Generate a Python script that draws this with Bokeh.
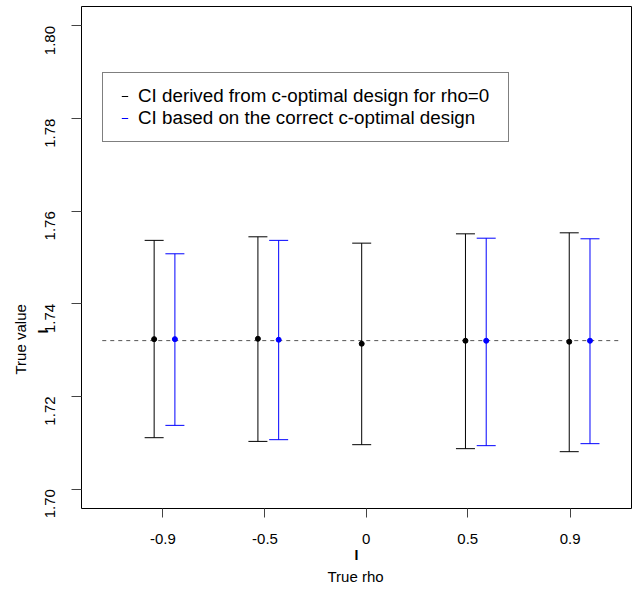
import math
from bokeh.plotting import figure
from bokeh.models import (Range1d, FixedTicker, NumeralTickFormatter, Title,
                          Legend, LegendItem, ColumnDataSource)
from bokeh.embed import file_html
from bokeh.resources import INLINE

# ---------------- data ----------------
rho_labels = ["-0.9", "-0.5", "0", "0.5", "0.9"]
tick_at = [0.984, 1.968, 2.944, 3.922, 4.908]
true_value = 1.7320508

black_x = [0.9, 1.9, 2.9, 3.9, 4.9]
black_est = [1.73237, 1.73245, 1.73138, 1.73202, 1.73181]
black_lower = [1.71109, 1.71029, 1.70958, 1.70872, 1.70807]
black_upper = [1.75370, 1.75447, 1.75310, 1.75511, 1.75533]

blue_x = [1.1, 2.1, 4.1, 5.1]
blue_est = [1.73237, 1.73224, 1.73202, 1.73202]
blue_lower = [1.71375, 1.71066, 1.70937, 1.70980]
blue_upper = [1.75080, 1.75370, 1.75417, 1.75404]

y_ticks = [1.70, 1.72, 1.74, 1.76, 1.78, 1.80]

legend_labels = ["CI derived from c-optimal design for rho=0",
                 "CI based on the correct c-optimal design"]

FONT = "Liberation Sans"

p = figure(output_backend="svg", toolbar_location=None,
           frame_width=550, frame_height=502,
           min_border_left=81, min_border_right=2,
           min_border_top=6, min_border_bottom=79,
           x_range=Range1d(0.2, 5.5), y_range=Range1d(1.6958, 1.8042))

p.background_fill_color = "white"
p.border_fill_color = "white"
p.outline_line_color = "black"
p.outline_line_width = 1
p.xgrid.visible = False
p.ygrid.visible = False

# axes
p.xaxis.ticker = FixedTicker(ticks=tick_at)
p.xaxis.major_label_overrides = {t: l for t, l in zip(tick_at, rho_labels)}
p.yaxis.ticker = FixedTicker(ticks=y_ticks)
p.yaxis.formatter = NumeralTickFormatter(format="0.00")
for ax in (p.xaxis[0], p.yaxis[0]):
    ax.axis_line_color = None
    ax.major_tick_in = 0
    ax.minor_tick_line_color = None
    ax.major_tick_line_color = "#444444"
    ax.major_label_text_font = FONT
    ax.major_label_text_font_size = "15px"
    ax.major_label_text_color = "black"
p.xaxis.major_tick_out = 9
p.xaxis.major_label_standoff = 16
p.yaxis.major_tick_out = 10
p.yaxis.major_label_standoff = 21
p.yaxis.major_label_orientation = math.pi / 2

p.xaxis.axis_label = "I"
p.xaxis.axis_label_standoff = 0
p.xaxis.axis_label_text_font = FONT
p.xaxis.axis_label_text_font_size = "14px"
p.xaxis.axis_label_text_font_style = "bold"
p.xaxis.axis_label_text_color = "black"

# reference (true value) line
p.segment(x0=[black_x[0] - 0.5], x1=[black_x[-1] + 0.5],
          y0=[true_value], y1=[true_value],
          line_color="#555555", line_width=1, line_dash="4 4")

# black CIs
bsrc = ColumnDataSource(dict(x=black_x, est=black_est, lo=black_lower, hi=black_upper))
p.segment(x0="x", x1="x", y0="lo", y1="hi", source=bsrc, line_color="black", line_width=1)
bcap_hi = p.scatter(x="x", y="hi", source=bsrc, marker="dash", size=19,
                    line_color="black", line_width=1)
p.scatter(x="x", y="lo", source=bsrc, marker="dash", size=19,
          line_color="black", line_width=1)
p.scatter(x="x", y="est", source=bsrc, marker="circle", size=5,
          fill_color="black", line_color="black")

# blue CIs
usrc = ColumnDataSource(dict(x=blue_x, est=blue_est, lo=blue_lower, hi=blue_upper))
p.segment(x0="x", x1="x", y0="lo", y1="hi", source=usrc, line_color="blue", line_width=1)
ucap_hi = p.scatter(x="x", y="hi", source=usrc, marker="dash", size=19,
                    line_color="blue", line_width=1)
p.scatter(x="x", y="lo", source=usrc, marker="dash", size=19,
          line_color="blue", line_width=1)
p.scatter(x="x", y="est", source=usrc, marker="circle", size=5,
          fill_color="blue", line_color="blue")

legend = Legend(items=[LegendItem(label=legend_labels[0], renderers=[bcap_hi]),
                       LegendItem(label=legend_labels[1], renderers=[ucap_hi])],
                location=(21, 366), padding=12, spacing=-1, margin=0,
                glyph_width=19, glyph_height=16, label_standoff=4,
                label_width=358,
                label_text_font=FONT, label_text_font_size="18.8px",
                label_text_color="black",
                border_line_color="black", border_line_width=1,
                background_fill_color="white", background_fill_alpha=1)
p.add_layout(legend)

# axis titles
p.add_layout(Title(text="True rho", align="left", offset=246, standoff=0,
                   text_font=FONT, text_font_size="15px", text_font_style="normal",
                   text_color="black"), "below")
p.add_layout(Title(text="I", align="left", offset=175, standoff=-26,
                   text_font=FONT, text_font_size="14px", text_font_style="bold",
                   text_color="black"), "left")
p.add_layout(Title(text="True value", align="left", offset=134, standoff=18,
                   text_font=FONT, text_font_size="15px", text_font_style="normal",
                   text_color="black"), "left")

open("out.html", "w").write(file_html(p, INLINE))
